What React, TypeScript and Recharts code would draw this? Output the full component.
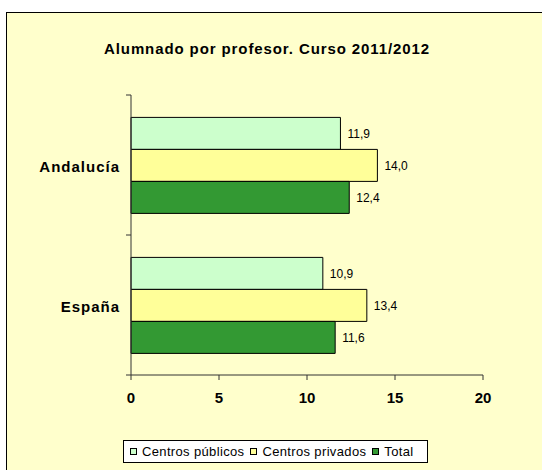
import React from 'react';
import { BarChart, Bar, XAxis, YAxis, LabelList } from 'recharts';

const categories = ['Andalucía', 'España'];
const publicos = [11.9, 10.9];
const privados = [14.0, 13.4];
const total = [12.4, 11.6];
const xTicks = [0, 5, 10, 15, 20];
const seriesKeys = ['publicos', 'privados', 'total'];
const seriesNames = ['Centros públicos', 'Centros privados', 'Total'];
const seriesColors = ['#CCFFCC', '#FFFF99', '#339933'];
const titleText = 'Alumnado por profesor. Curso 2011/2012';

const data = categories.map((c, i) => ({
  name: c,
  publicos: publicos[i],
  privados: privados[i],
  total: total[i],
}));

const FONT = "Arial, 'Liberation Sans', Helvetica, sans-serif";
const CHART_W = 542;
const CHART_H = 470;
const MARGIN = { top: 95, right: 59, bottom: 65, left: 0 };
const X_AXIS_H = 30;
const Y_AXIS_W = 131;
const PLOT_H = CHART_H - MARGIN.top - MARGIN.bottom - X_AXIS_H;
const BAND = PLOT_H / categories.length;

const fmt = (v: any) => Number(v).toFixed(1).replace('.', ',');

const CatTick = (props: any) => {
  const { y, payload, index } = props;
  const axisX = MARGIN.left + Y_AXIS_W;
  const isLast = index === categories.length - 1;
  return (
    <g>
      <line x1={axisX - 5} x2={axisX} y1={y - BAND / 2} y2={y - BAND / 2} stroke="#333" />
      {isLast && <line x1={axisX - 5} x2={axisX} y1={y + BAND / 2} y2={y + BAND / 2} stroke="#333" />}
      <text
        x={axisX - 11}
        y={y}
        dy={7}
        textAnchor="end"
        fontFamily={FONT}
        fontSize={15}
        fontWeight="bold"
        letterSpacing={1}
        fill="#000"
      >
        {payload.value}
      </text>
    </g>
  );
};

export default function App() {
  return (
    <div style={{ position: 'absolute', left: 0, top: 0, width: 542, height: 470, overflow: 'hidden', fontFamily: FONT }}>
      <div
        style={{
          position: 'absolute',
          left: 6,
          top: 12,
          width: 545,
          height: 470,
          background: '#FFFFCC',
          border: '1px solid #000',
          boxSizing: 'border-box',
        }}
      />
      <div
        style={{
          position: 'absolute',
          left: 0,
          top: 40,
          width: 534,
          textAlign: 'center',
          fontSize: 15,
          fontWeight: 'bold',
          letterSpacing: 0.9,
          color: '#000',
          whiteSpace: 'nowrap',
        }}
      >
        {titleText}
      </div>
      <div style={{ position: 'absolute', left: 0, top: 0 }}>
        <BarChart
          width={CHART_W}
          height={CHART_H}
          data={data}
          layout="vertical"
          margin={MARGIN}
          barCategoryGap="16%"
          barGap={0}
        >
          <XAxis
            type="number"
            domain={[0, 20]}
            ticks={xTicks}
            height={X_AXIS_H}
            tickSize={5}
            tickMargin={12}
            stroke="#333"
            tick={{ fontSize: 15, fontWeight: 'bold', fill: '#000', fontFamily: FONT }}
          />
          <YAxis
            type="category"
            dataKey="name"
            width={Y_AXIS_W}
            axisLine={{ stroke: '#333' }}
            tickLine={false}
            tick={<CatTick />}
          />
          {seriesKeys.map((k, i) => (
            <Bar
              key={k}
              dataKey={k}
              name={seriesNames[i]}
              fill={seriesColors[i]}
              stroke="#000"
              strokeWidth={1}
              isAnimationActive={false}
            >
              <LabelList
                dataKey={k}
                position="right"
                offset={7}
                formatter={fmt}
                style={{ fontSize: 12, fill: '#000', fontFamily: FONT }}
              />
            </Bar>
          ))}
        </BarChart>
      </div>
      <div
        style={{
          position: 'absolute',
          left: 123,
          top: 440,
          width: 305,
          height: 23,
          boxSizing: 'border-box',
          background: '#fff',
          border: '1px solid #000',
          display: 'flex',
          alignItems: 'center',
          paddingLeft: 6,
          fontSize: 13,
          letterSpacing: 0.35,
          color: '#000',
          whiteSpace: 'nowrap',
        }}
      >
        {seriesNames.map((n, i) => (
          <div key={n} style={{ display: 'flex', alignItems: 'center', marginRight: 6 }}>
            <span
              style={{
                display: 'inline-block',
                width: 7,
                height: 7,
                boxSizing: 'border-box',
                background: seriesColors[i],
                border: '1px solid #000',
                marginRight: 5,
              }}
            />
            <span>{n}</span>
          </div>
        ))}
      </div>
    </div>
  );
}
